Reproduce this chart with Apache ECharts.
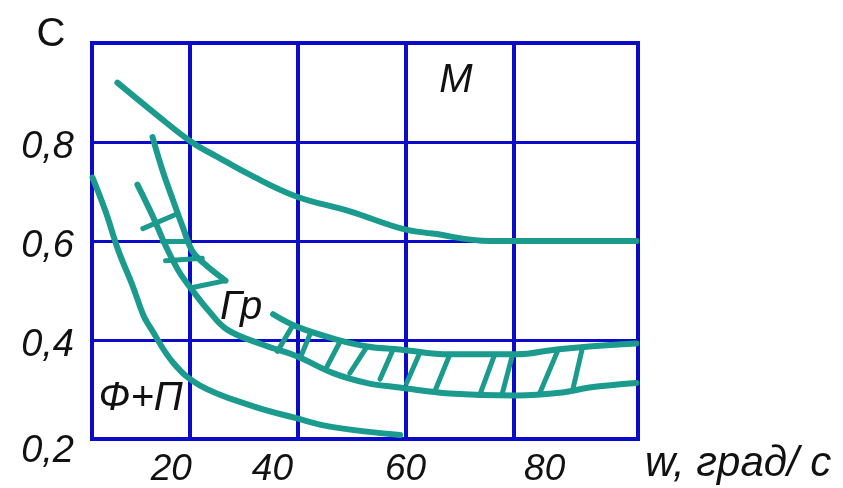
<!DOCTYPE html>
<html>
<head>
<meta charset="utf-8">
<script src="https://cdn.jsdelivr.net/npm/echarts@6/dist/echarts.min.js"></script>
<style>
html, body { margin: 0; padding: 0; background: #fff; }
#chart { width: 843px; height: 488px; }
</style>
</head>
<body>
<div id="chart"></div>
<script>
// ticks
const xTicks = [20, 40, 60, 80]
const xName = 'w, град/ с'
const yName = 'С'

// curves, [w, C]
const curveM = [[6.7,0.92],[13.4,0.86],[20.4,0.80],[25.2,0.77],[31,0.735],[39.8,0.69],[49.7,0.66],[59.3,0.625],[65,0.615],[75.6,0.60],[80.5,0.60],[102.7,0.60]]
const curveFP = [[2.1,0.728],[4.5,0.66],[6.9,0.58],[9.5,0.51],[11.5,0.45],[12.8,0.425],[17.1,0.353],[22,0.308],[31.3,0.268],[39.8,0.242],[46.6,0.224],[59,0.208]]
const bandTopA = [[13.2,0.81],[15,0.744],[17.1,0.679],[18.9,0.625],[20.6,0.579],[23,0.552],[26.7,0.52]]
const bandTopB = [[35.5,0.452],[39.9,0.427],[46.6,0.403],[52.9,0.387],[58.9,0.381],[68.2,0.371],[80.5,0.371],[87.9,0.381],[94,0.387],[102.7,0.393]]
const bandBottom = [[10.4,0.714],[13.2,0.651],[15.6,0.591],[18,0.54],[20.6,0.50],[23.5,0.46],[27,0.421],[33.5,0.391],[39.9,0.367],[46.6,0.333],[52.9,0.313],[58.9,0.304],[68.2,0.292],[80.5,0.288],[89,0.294],[94,0.304],[102.7,0.313]]
// hatch strokes: x1, y1, x2, y2
const hatches = [
  [11.4,0.625,17.8,0.655],[15.0,0.599,19.8,0.599],[15.6,0.560,22.4,0.565],[20.6,0.506,26.7,0.520],
  [36.3,0.377,39.0,0.427],[40.5,0.363,42.3,0.411],[45.5,0.347,47.9,0.397],[49.7,0.333,52.9,0.387],
  [55.3,0.321,57.7,0.381],[60.2,0.313,62.6,0.373],[65.4,0.296,68.2,0.371],[73.7,0.288,76.5,0.371],
  [77.9,0.292,79.8,0.371],[84.8,0.292,88.1,0.377],[90.9,0.298,92.7,0.383]
]
// region labels
const regionLabels = [['M',69.3,0.923],['Гр',29.6,0.464],['Ф+П',11,0.282]]

const TEAL = '#1b9a8e'
const BLUE = '#0c0cc8'
const INK = '#111'
const FONT = '"Liberation Sans", Arial, sans-serif'

const curve = (data, smooth) => ({
  type: 'line', data: data, smooth: smooth, showSymbol: false, silent: true,
  lineStyle: { color: TEAL, width: 6, cap: 'round' }
})

const series = [
  curve(curveM, 0.4),
  curve(curveFP, 0.4),
  curve(bandTopA, 0.4),
  curve(bandTopB, 0.4),
  curve(bandBottom, 0.4)
]
hatches.forEach(h => {
  const s = curve([[h[0], h[1]], [h[2], h[3]]], false)
  s.lineStyle.width = 5
  series.push(s)
})
series.push({
  type: 'scatter', symbolSize: 0, silent: true,
  itemStyle: { opacity: 1 },
  data: regionLabels.map(r => ({ name: r[0], value: [r[1], r[2]] })),
  label: {
    show: true, position: 'inside', formatter: '{b}', opacity: 1,
    color: INK, fontStyle: 'italic', fontFamily: FONT, fontSize: 40
  }
})

// nudges so labels sit where the original puts them
const xShift = { 20: [0, 36, 0, 0], 40: [0, 50, 0, 0], 60: [0, 0, 0, 0], 80: [0, 0, 0, 62] }

const chart = echarts.init(document.getElementById('chart'))
chart.setOption({
  backgroundColor: '#fff',
  animation: false,
  grid: {
    left: 92, right: 205, top: 43, bottom: 47,
    show: true, borderColor: BLUE, borderWidth: 4
  },
  xAxis: {
    type: 'value', min: 2, max: 103,
    name: xName, nameLocation: 'end', nameGap: 7,
    nameTextStyle: { color: INK, fontStyle: 'italic', fontFamily: FONT, fontSize: 42, verticalAlign: 'top', padding: [4, 0, 0, 0] },
    axisLine: { show: false },
    axisTick: { show: false, customValues: xTicks },
    splitLine: { show: true, lineStyle: { color: BLUE, width: 4, type: 'solid' } },
    axisLabel: {
      customValues: xTicks, margin: 12,
      color: INK, fontStyle: 'italic', fontFamily: FONT, fontSize: 37,
      formatter: v => '{s' + v + '|' + v + '}',
      rich: Object.fromEntries(xTicks.map(t => ['s' + t, { fontStyle: 'italic', fontFamily: FONT, fontSize: 37, color: INK, padding: xShift[t] }]))
    }
  },
  yAxis: {
    type: 'value', min: 0.2, max: 1.0, interval: 0.2,
    name: yName, nameLocation: 'end', nameGap: -12,
    nameTextStyle: { color: INK, fontFamily: FONT, fontSize: 40, padding: [0, 82, 0, 0] },
    axisLine: { show: false },
    axisTick: { show: false },
    splitLine: { show: true, lineStyle: { color: BLUE, width: 3, type: 'solid' } },
    axisLabel: {
      margin: 18,
      formatter: v => {
        if (v > 0.95) return ''
        const s = v.toFixed(1).replace('.', ',')
        return v < 0.25 ? '{low|' + s + '}' : '{n|' + s + '}'
      },
      rich: {
        n: { fontStyle: 'italic', fontFamily: FONT, fontSize: 38, color: INK, padding: [10, 0, 0, 0] },
        low: { fontStyle: 'italic', fontFamily: FONT, fontSize: 38, color: INK, padding: [24, 0, 0, 0] }
      }
    }
  },
  series: series
})
</script>
</body>
</html>
